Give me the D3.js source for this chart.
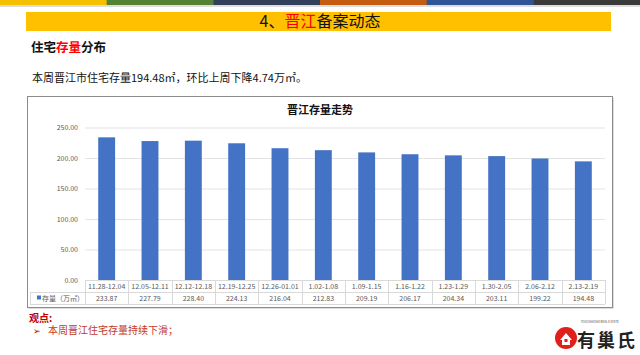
<!DOCTYPE html>
<html>
<head>
<meta charset="utf-8">
<script src="https://cdn.jsdelivr.net/npm/d3@7"></script>
<style>
  body { margin:0; background:#fff; }
  svg { display:block; font-family:"Noto Sans CJK SC", "Microsoft YaHei", sans-serif; }
</style>
</head>
<body>
<div id="chart"></div>
<script>
const categories = ["11.28-12.04","12.05-12.11","12.12-12.18","12.19-12.25","12.26-01.01","1.02-1.08",
  "1.09-1.15","1.16-1.22","1.23-1.29","1.30-2.05","2.06-2.12","2.13-2.19"];
const stock = [233.87, 227.79, 228.40, 224.13, 216.04, 212.83, 209.19, 206.17, 204.34, 203.11, 199.22, 194.48];
const yTicks = [0, 50, 100, 150, 200, 250];
const stripeColors = ["#f5c000","#548235","#323f5a","#c55a11","#2f5597","#3a3a3a"];

const W = 640, H = 355;
const svg = d3.select("#chart").append("svg").attr("width", W).attr("height", H);

// top stripe
const sx = d3.scaleBand().domain(d3.range(stripeColors.length)).range([0, W]);
svg.append("rect").attr("x",0).attr("y",4).attr("width",W).attr("height",3).attr("fill","#ddd");
svg.selectAll(".stripe").data(stripeColors).enter().append("rect")
  .attr("x", (d,i) => sx(i)).attr("y", 0).attr("width", sx.bandwidth()+0.5).attr("height", 5)
  .attr("fill", d => d);

// title banner
svg.append("rect").attr("x",26).attr("y",12).attr("width",585).attr("height",19).attr("fill","#ffc000");
const tt = svg.append("text").attr("x",320).attr("y",27).attr("text-anchor","middle")
  .style("font-size","16px").attr("fill","#111");
tt.append("tspan").text("4、");
tt.append("tspan").attr("fill","#ff0000").text("晋江");
tt.append("tspan").text("备案动态");

// section heading
const sh = svg.append("text").attr("x",31).attr("y",52).style("font-size","12.5px").style("font-weight","bold").attr("fill","#111");
sh.append("tspan").text("住宅");
sh.append("tspan").attr("fill","#ff0000").text("存量");
sh.append("tspan").text("分布");

svg.append("text").attr("x",32).attr("y",82).style("font-size","11px").attr("fill","#111")
  .text("本周晋江市住宅存量194.48㎡，环比上周下降4.74万㎡。");

// chart box
svg.append("rect").attr("x",28.5).attr("y",97.5).attr("width",585).attr("height",211)
  .attr("fill","#bbb");
svg.append("rect").attr("x",27.5).attr("y",96.5).attr("width",585).attr("height",211)
  .attr("fill","#fff").attr("stroke","#8c8c8c");

svg.append("text").attr("x",320).attr("y",114).attr("text-anchor","middle")
  .style("font-size","11px").style("font-weight","bold").attr("fill","#111").text("晋江存量走势");

const x = d3.scaleBand().domain(categories).range([85, 605]).paddingInner(0.61).paddingOuter(0.305);
const y = d3.scaleLinear().domain([0, 250]).range([280, 127.5]);

const g = svg.append("g");
g.append("g").attr("class","axis axis--y")
  .attr("transform","translate(85,0)")
  .call(d3.axisLeft(y).tickValues(yTicks).tickFormat(d3.format(".2f")).tickSize(-520).tickPadding(7))
  .call(a => a.select(".domain").remove())
  .call(a => a.selectAll("line").attr("stroke","#e3e3e3"))
  .call(a => a.selectAll("text").attr("fill","#595959").style("font-size","7px")
    .style("font-family","'Noto Sans CJK SC', sans-serif"));

g.selectAll(".bar").data(stock).enter().append("rect")
  .attr("class","bar")
  .attr("x", (d,i) => x(categories[i]))
  .attr("y", d => y(d))
  .attr("width", x.bandwidth())
  .attr("height", d => y(0) - y(d))
  .attr("fill","#4472c4");

// data table
const step = x.step();
const tableTop = 280, rowH = 12;
const lineC = "#d9d9d9";
const tg = svg.append("g");
tg.append("line").attr("x1",85).attr("x2",605).attr("y1",tableTop+0.5).attr("y2",tableTop+0.5).attr("stroke",lineC);
tg.append("line").attr("x1",30).attr("x2",605).attr("y1",tableTop+rowH+0.5).attr("y2",tableTop+rowH+0.5).attr("stroke",lineC);
tg.append("line").attr("x1",30).attr("x2",605).attr("y1",tableTop+2*rowH+0.5).attr("y2",tableTop+2*rowH+0.5).attr("stroke",lineC);
tg.append("line").attr("x1",30.5).attr("x2",30.5).attr("y1",tableTop+rowH).attr("y2",tableTop+2*rowH).attr("stroke",lineC);
tg.selectAll(".vl").data(d3.range(categories.length+1)).enter().append("line")
  .attr("x1", i => Math.round(85 + i*step)+0.5).attr("x2", i => Math.round(85 + i*step)+0.5)
  .attr("y1", tableTop).attr("y2", tableTop+2*rowH).attr("stroke",lineC);
tg.selectAll(".cat").data(categories).enter().append("text")
  .attr("x", d => x(d) + x.bandwidth()/2).attr("y", tableTop+9)
  .attr("text-anchor","middle").style("font-size","7px").attr("fill","#595959").text(d => d);
tg.selectAll(".val").data(stock).enter().append("text")
  .attr("x", (d,i) => x(categories[i]) + x.bandwidth()/2).attr("y", tableTop+rowH+9)
  .attr("text-anchor","middle").style("font-size","7px").attr("fill","#595959").text(d => d.toFixed(2));
tg.append("rect").attr("x",37).attr("y",tableTop+rowH+3.5).attr("width",4).attr("height",4).attr("fill","#4472c4");
tg.append("text").attr("x",42).attr("y",tableTop+rowH+9).style("font-size","7px").attr("fill","#595959").text("存量（万㎡）");

// viewpoint
svg.append("text").attr("x",29).attr("y",322).style("font-size","10px").style("font-weight","bold")
  .attr("fill","#c00000").text("观点:");
svg.append("text").attr("x",33).attr("y",334).style("font-size","9px").attr("fill","#c00000").text("➢");
svg.append("text").attr("x",48).attr("y",334).style("font-size","10px").attr("fill","#c0392b")
  .text("本周晋江住宅存量持续下滑；");

// logo
const lg = svg.append("g").attr("transform","translate(566,338)");
lg.append("circle").attr("r",11).attr("fill","#e0201b");
lg.append("path").attr("d","M-6,2 L0,-5 L6,2 L4,2 L4,7 L-4,7 L-4,2 Z").attr("fill","#fff");
lg.append("rect").attr("x",-1.5).attr("y",1).attr("width",3).attr("height",3).attr("fill","#e0201b");
lg.append("text").attr("x",11).attr("y",9).style("font-size","18px").style("font-weight","bold")
  .attr("textLength",58).attr("fill","#222").text("有巢氏");
lg.append("text").attr("x",15).attr("y",-15).style("font-size","3px").attr("fill","#444").text("YOUCHAOSHI REAL ESTATE");
</script>
</body>
</html>
